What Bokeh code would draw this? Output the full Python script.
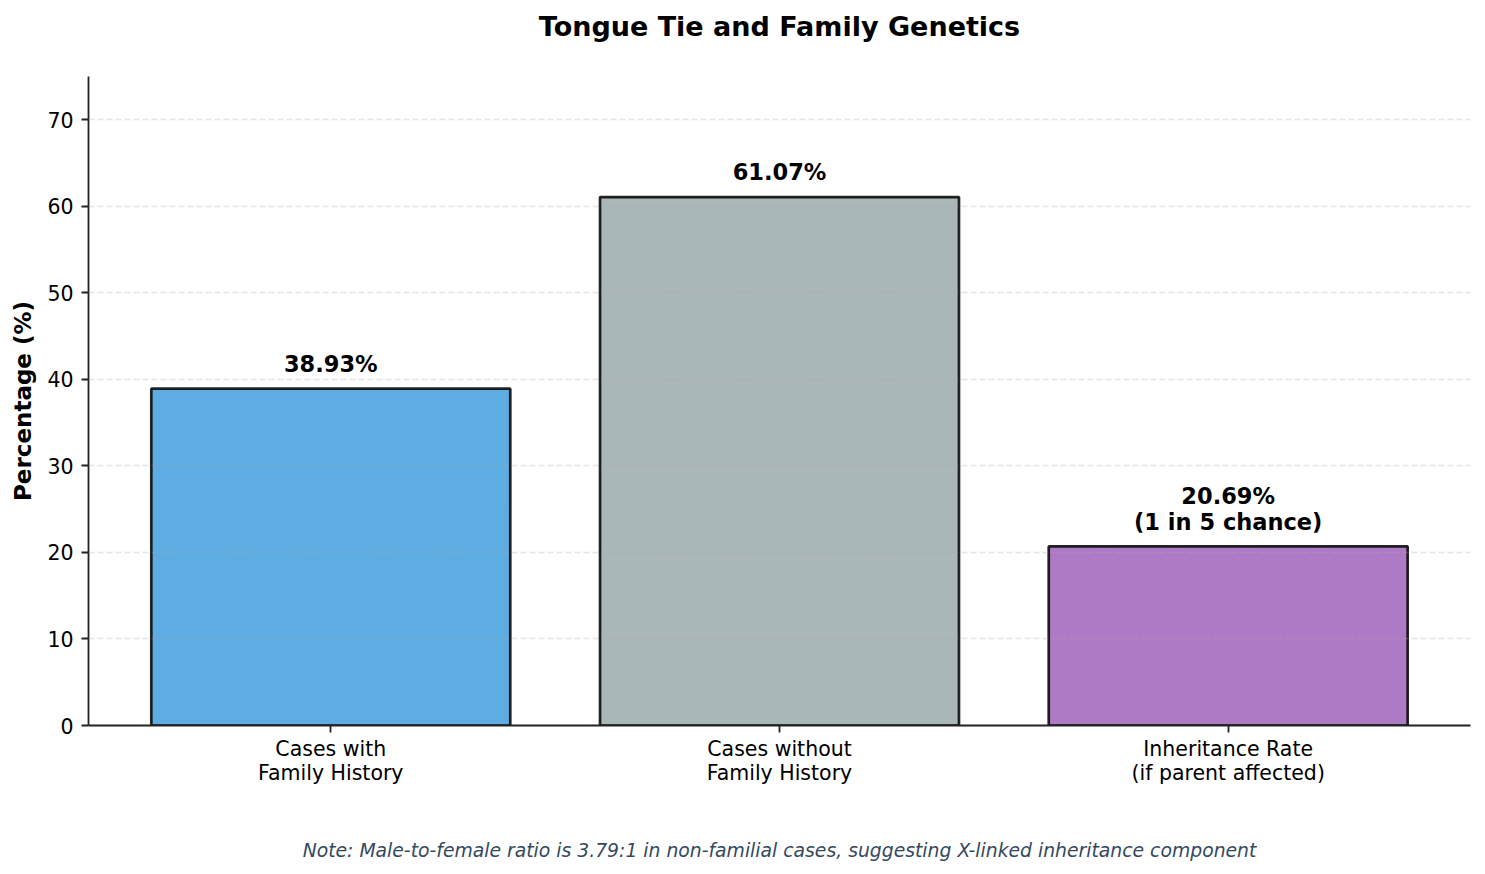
from bokeh.plotting import figure
from bokeh.models import Range1d, FixedTicker, ColumnDataSource, LinearAxis
from bokeh.core.properties import value
from bokeh.embed import file_html
from bokeh.resources import INLINE

# --- data ---
categories = ["Cases with\nFamily History",
              "Cases without\nFamily History",
              "Inheritance Rate\n(if parent affected)"]
percentages = [38.93, 61.07, 20.69]
bar_labels = ["38.93%", "61.07%", "20.69%\n(1 in 5 chance)"]
bar_colors = ["#3498db", "#95a5a6", "#9b59b6"]
y_ticks = [0, 10, 20, 30, 40, 50, 60, 70]
title = "Tongue Tie and Family Genetics"
note = ("Note: Male-to-female ratio is 3.79:1 in non-familial cases, "
        "suggesting X-linked inheritance component")

FONT = "DejaVu Sans"
positions = list(range(len(categories)))
Y_MAX = 75

src = ColumnDataSource(dict(
    x=positions,
    top=percentages,
    color=bar_colors,
    label=bar_labels,
    label_y=[v + 1 for v in percentages],
))

p = figure(width=1485, height=874, output_backend="svg", toolbar_location=None,
           x_range=Range1d(-0.54, 2.54), y_range=Range1d(0, Y_MAX),
           min_border_left=88, min_border_right=15, min_border_top=76,
           min_border_bottom=149)
p.outline_line_color = None
p.background_fill_color = "white"
p.border_fill_color = "white"

# bars
p.vbar(x="x", top="top", width=0.8, source=src,
       fill_color="color", fill_alpha=0.8,
       line_color="black", line_alpha=0.85, line_width=2.7)

# value labels above bars
p.text(x="x", y="label_y", text="label", source=src,
       text_align="center", text_baseline="bottom", y_offset=-3,
       text_font=value(FONT), text_font_size="22.5px",
       text_font_style="bold", text_color="black", text_line_height=1.0)

# grid: dashed horizontal lines drawn over the bars
p.xgrid.visible = False
p.ygrid.ticker = FixedTicker(ticks=y_ticks)
p.ygrid.grid_line_color = "#a8a8a8"
p.ygrid.grid_line_alpha = 0.3
p.ygrid.grid_line_dash = "6 3"
p.ygrid.grid_line_width = 1.6
p.ygrid.level = "guide"

# x axis (categories), with the footnote underneath as its label
xa = p.xaxis[0]
xa.ticker = FixedTicker(ticks=positions)
xa.major_label_overrides = {i: c for i, c in zip(positions, categories)}
xa.major_label_text_font = FONT
xa.major_label_text_font_size = "20.5px"
xa.major_label_text_color = "black"
xa.major_label_text_line_height = 1.0
xa.major_label_standoff = 4
xa.major_tick_out = 7
xa.major_tick_in = 0
xa.minor_tick_out = 0
xa.minor_tick_in = 0
xa.axis_line_color = "#222222"
xa.axis_line_width = 1.8
xa.major_tick_line_color = "#222222"
xa.major_tick_line_width = 1.8
xa.axis_label = note
xa.axis_label_text_font = FONT
xa.axis_label_text_font_size = "18.8px"
xa.axis_label_text_font_style = "italic"
xa.axis_label_text_color = "#34495e"
xa.axis_label_standoff = 52

# y axis
ya = p.yaxis[0]
ya.ticker = FixedTicker(ticks=y_ticks)
ya.axis_label = "Percentage (%)"
ya.axis_label_text_font = FONT
ya.axis_label_text_font_size = "23px"
ya.axis_label_text_font_style = "bold"
ya.axis_label_text_color = "black"
ya.axis_label_standoff = 8
ya.major_label_text_font = FONT
ya.major_label_text_font_size = "20.5px"
ya.major_label_text_color = "black"
ya.major_label_standoff = 8
ya.major_tick_out = 7
ya.major_tick_in = 0
ya.minor_tick_out = 0
ya.minor_tick_in = 0
ya.axis_line_color = "#222222"
ya.axis_line_width = 1.8
ya.major_tick_line_color = "#222222"
ya.major_tick_line_width = 1.8

# chart title: carried by a bare axis along the top edge
top = LinearAxis(ticker=FixedTicker(ticks=[]), axis_line_color=None,
                 major_tick_out=0, major_tick_in=0,
                 minor_tick_out=0, minor_tick_in=0,
                 major_label_standoff=0,
                 axis_label=title, axis_label_standoff=35,
                 axis_label_text_font=FONT, axis_label_text_font_size="27px",
                 axis_label_text_font_style="bold",
                 axis_label_text_color="black")
p.add_layout(top, "above")

open("out.html", "w").write(file_html(p, INLINE))
